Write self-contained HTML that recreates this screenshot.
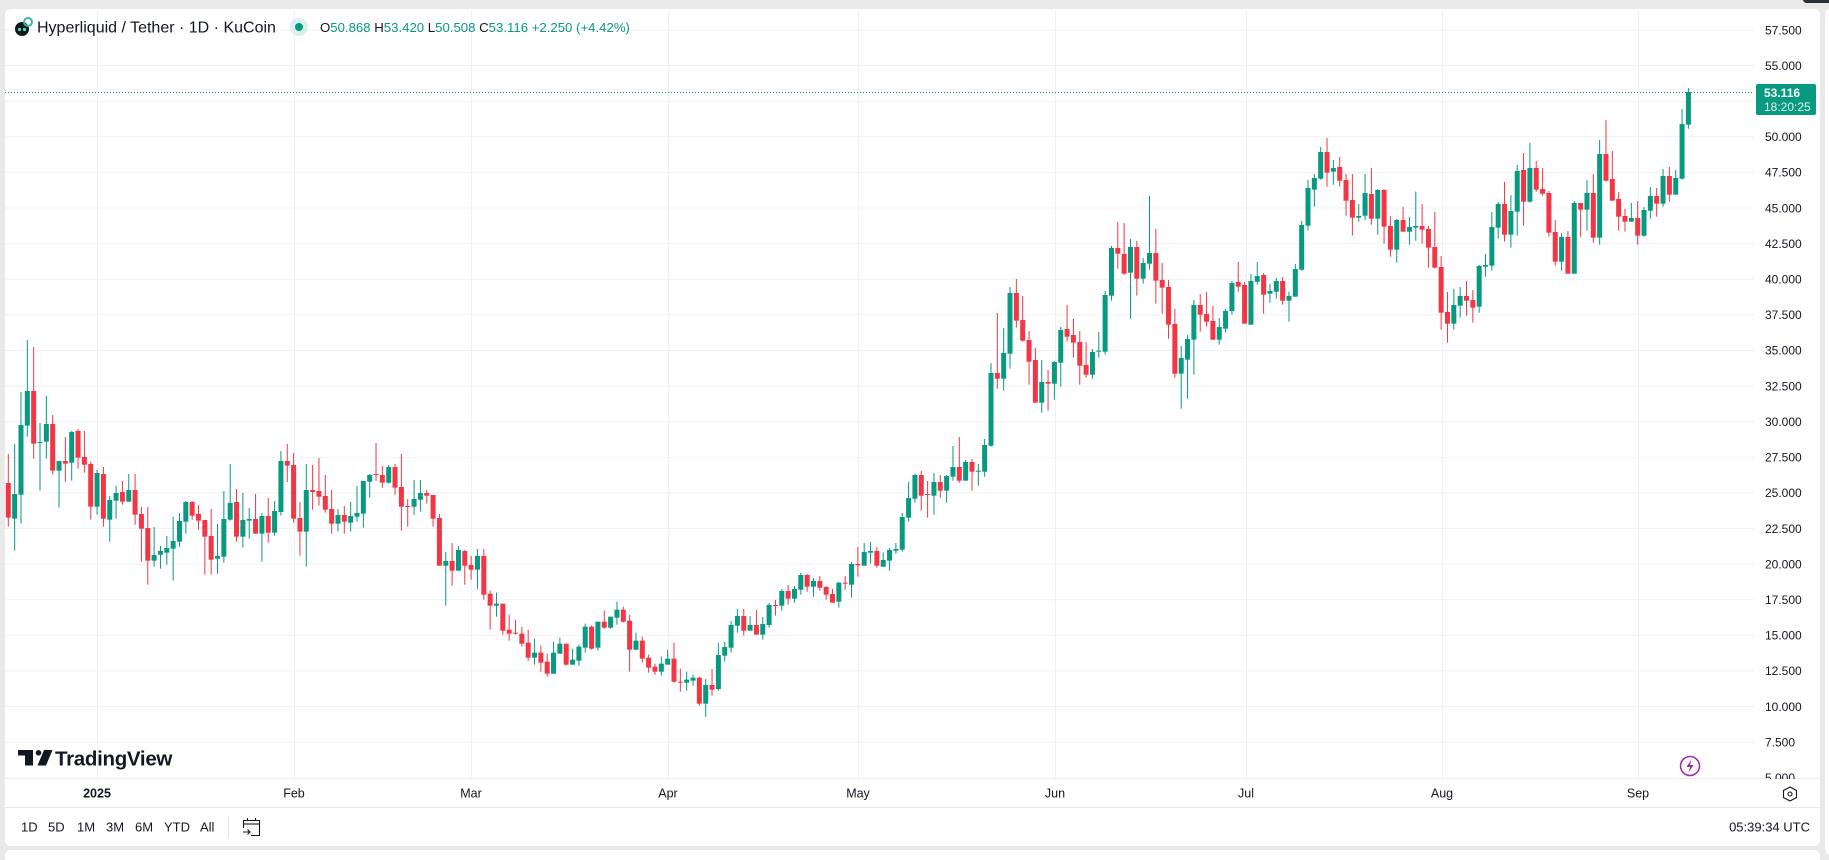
<!DOCTYPE html>
<html><head><meta charset="utf-8">
<style>
html,body{margin:0;padding:0;width:1829px;height:855px;overflow:hidden;background:#e9e9e9;font-family:"Liberation Sans",sans-serif;}
.abs{position:absolute;}
</style></head>
<body>
<div class="abs" style="left:5px;top:9px;width:1815px;height:837px;background:#fff;border-radius:6px;"></div>
<div class="abs" style="left:5px;top:850px;width:1815px;height:10px;background:#fff;border-radius:6px 6px 0 0;"></div>
<div class="abs" style="left:1825px;top:9px;width:10px;height:846px;background:#fff;border-radius:6px;"></div>
<div class="abs" style="left:1803px;top:-4px;width:30px;height:7px;background:#2a2e39;border-radius:4px;"></div>
<svg class="abs" style="left:0;top:0" width="1829" height="855" xmlns="http://www.w3.org/2000/svg">
<defs><clipPath id="pax"><rect x="1756" y="10" width="70" height="769"/></clipPath>
<clipPath id="plot"><rect x="5" y="10" width="1749" height="769"/></clipPath></defs>
<g stroke="#f0f1f3" stroke-width="1">
<line x1="5" x2="1754" y1="30" y2="30"/>
<line x1="5" x2="1754" y1="65.6" y2="65.6"/>
<line x1="5" x2="1754" y1="101.2" y2="101.2"/>
<line x1="5" x2="1754" y1="136.8" y2="136.8"/>
<line x1="5" x2="1754" y1="172.4" y2="172.4"/>
<line x1="5" x2="1754" y1="208" y2="208"/>
<line x1="5" x2="1754" y1="243.6" y2="243.6"/>
<line x1="5" x2="1754" y1="279.2" y2="279.2"/>
<line x1="5" x2="1754" y1="314.8" y2="314.8"/>
<line x1="5" x2="1754" y1="350.4" y2="350.4"/>
<line x1="5" x2="1754" y1="386.1" y2="386.1"/>
<line x1="5" x2="1754" y1="421.7" y2="421.7"/>
<line x1="5" x2="1754" y1="457.3" y2="457.3"/>
<line x1="5" x2="1754" y1="492.9" y2="492.9"/>
<line x1="5" x2="1754" y1="528.5" y2="528.5"/>
<line x1="5" x2="1754" y1="564.1" y2="564.1"/>
<line x1="5" x2="1754" y1="599.7" y2="599.7"/>
<line x1="5" x2="1754" y1="635.3" y2="635.3"/>
<line x1="5" x2="1754" y1="670.9" y2="670.9"/>
<line x1="5" x2="1754" y1="706.5" y2="706.5"/>
<line x1="5" x2="1754" y1="742.1" y2="742.1"/>
<line x1="97.5" x2="97.5" y1="10" y2="778"/>
<line x1="294.5" x2="294.5" y1="10" y2="778"/>
<line x1="471.5" x2="471.5" y1="10" y2="778"/>
<line x1="668.5" x2="668.5" y1="10" y2="778"/>
<line x1="858.5" x2="858.5" y1="10" y2="778"/>
<line x1="1055.5" x2="1055.5" y1="10" y2="778"/>
<line x1="1246.5" x2="1246.5" y1="10" y2="778"/>
<line x1="1442.5" x2="1442.5" y1="10" y2="778"/>
<line x1="1638.5" x2="1638.5" y1="10" y2="778"/>
</g>
<line x1="5" x2="1820" y1="778.5" y2="778.5" stroke="#eceef1"/>
<line x1="5" x2="1820" y1="807.5" y2="807.5" stroke="#e6e8ec"/>
<line x1="5" x2="1754" y1="92.5" y2="92.5" stroke="#089981" stroke-width="1" stroke-dasharray="1 2"/>
<g clip-path="url(#plot)" id="candles"></g>
<g font-size="12" fill="#131722" clip-path="url(#pax)">
<text x="1765" y="34.3">57.500</text>
<text x="1765" y="69.9">55.000</text>
<text x="1765" y="141.1">50.000</text>
<text x="1765" y="176.7">47.500</text>
<text x="1765" y="212.3">45.000</text>
<text x="1765" y="247.9">42.500</text>
<text x="1765" y="283.5">40.000</text>
<text x="1765" y="319.1">37.500</text>
<text x="1765" y="354.7">35.000</text>
<text x="1765" y="390.4">32.500</text>
<text x="1765" y="426">30.000</text>
<text x="1765" y="461.6">27.500</text>
<text x="1765" y="497.2">25.000</text>
<text x="1765" y="532.8">22.500</text>
<text x="1765" y="568.4">20.000</text>
<text x="1765" y="604">17.500</text>
<text x="1765" y="639.6">15.000</text>
<text x="1765" y="675.2">12.500</text>
<text x="1765" y="710.8">10.000</text>
<text x="1765" y="746.4">7.500</text>
<text x="1765" y="782">5.000</text>
</g>
<rect x="1756" y="84" width="60" height="31" rx="2" fill="#089981"/>
<text x="1764" y="97" font-size="12" font-weight="bold" fill="#fff">53.116</text>
<text x="1764" y="111" font-size="12" fill="#e6f5f2">18:20:25</text>
<circle cx="22" cy="29" r="7" fill="#0e1a1c"/>
<circle cx="19.5" cy="29.5" r="1.6" fill="#5fd3c0"/>
<circle cx="24.5" cy="29.5" r="1.6" fill="#5fd3c0"/>
<circle cx="28" cy="22" r="4" fill="none" stroke="#3bb5a3" stroke-width="2"/>
<text x="37" y="32.5" font-size="16" fill="#131722">Hyperliquid / Tether · 1D · KuCoin</text>
<circle cx="299" cy="27" r="9" fill="#d9f1ec"/>
<circle cx="299" cy="27" r="4" fill="#089981"/>
<text x="320" y="32" font-size="13.2" fill="#089981"><tspan fill="#131722">O</tspan>50.868 <tspan fill="#131722">H</tspan>53.420 <tspan fill="#131722">L</tspan>50.508 <tspan fill="#131722">C</tspan>53.116 +2.250 (+4.42%)</text>
<rect x="18" y="750" width="15" height="5.5" fill="#131722"/>
<rect x="25" y="750" width="8" height="15.5" fill="#131722"/>
<circle cx="38.5" cy="752.8" r="2.8" fill="#131722"/>
<polygon points="44,750 52.5,750 46,765.5 37.5,765.5" fill="#131722"/>
<text x="55" y="765.5" font-size="20.5" font-weight="bold" fill="#131722" letter-spacing="-0.3">TradingView</text>
<circle cx="1690" cy="766" r="9.5" fill="none" stroke="#9c27b0" stroke-width="1.5"/>
<polygon points="1691.5,759.5 1686.5,767 1690,767 1688.5,772.5 1693.5,765 1690,765" fill="#9c27b0"/>
<g font-size="12.5" fill="#131722" text-anchor="middle">
<text x="97" y="797.5" font-weight="bold">2025</text>
<text x="294" y="797.5">Feb</text>
<text x="471" y="797.5">Mar</text>
<text x="668" y="797.5">Apr</text>
<text x="858" y="797.5">May</text>
<text x="1055" y="797.5">Jun</text>
<text x="1246" y="797.5">Jul</text>
<text x="1442" y="797.5">Aug</text>
<text x="1638" y="797.5">Sep</text>
</g>
<polygon points="1790,787 1796.5,790.5 1796.5,797.5 1790,801 1783.5,797.5 1783.5,790.5" fill="none" stroke="#131722" stroke-width="1.1"/>
<circle cx="1790" cy="794" r="2" fill="none" stroke="#131722" stroke-width="1.1"/>
<g font-size="13" fill="#131722">
<text x="21" y="831.5">1D</text>
<text x="48" y="831.5">5D</text>
<text x="77" y="831.5">1M</text>
<text x="106" y="831.5">3M</text>
<text x="135" y="831.5">6M</text>
<text x="164" y="831.5">YTD</text>
<text x="200" y="831.5">All</text>
<text x="1810" y="831.5" text-anchor="end">05:39:34 UTC</text>
</g>
<line x1="228.5" x2="228.5" y1="816" y2="838" stroke="#e0e3eb"/>
<g fill="none" stroke="#131722" stroke-width="1.1">
<path d="M243.5,828 V820.5 H259.5 V835.5 H251"/>
<line x1="243.5" x2="259.5" y1="824" y2="824"/>
<line x1="247.5" x2="247.5" y1="818" y2="821"/>
<line x1="255.5" x2="255.5" y1="818" y2="821"/>
<path d="M243,832 H250 M247.5,829.5 L250,832 L247.5,834.5"/>
</g>
</svg>
<script>
const segs=[
[320,0,`r,489,593,402,620 g,522,596,372,692 g,315,524,216,611 g,213,317,60,350 r,213,371,81,416 g,366,368,309,512 g,312,365,228,416 r,312,452,285,464 g,423,452,423,563 r,423,431,351,485 g,336,428,333,482 r,333,413,327,446 r,411,434,333,458 r,432,560,426,599 g,459,560,450,584 r,462,596,441,620 g,540,599,528,665 g,519,542,498,596 r,516,545,483,554 g,510,545,462,545 r,510,584,462,614 r,582,626,561,725 r,624,722,561,794 g,705,722,621,740 g,693,704,678,746 g,684,698,648,734 g,663,686,591,782 g,603,665,579,680 g,546,605,543,641 r,546,587,543,599 r,582,602,555,629 r,600,650,600,764 r,648,719,567,764 g,708,716,612,761 g,597,710,513,728 g,549,599,432,602 r,546,650,507,665 g,600,650,519,683 g,597,602,564,656 r,597,641,522,641 g,588,641,579,725 r,588,638,534,668 g,573,638,543,647 g,423,576,393,587 r,423,437,372,486 r,435,596,399,608 r,594,635,546,707 g,510,635,432,740 r,510,516,435,569 r,513,530,414,557 r,528,569,465,578 r,567,611,510,641 g,585,611,567,635 r,585,605,558,641`],
[430,54,`g,258,278,216,305 g,249,260,168,275 g,153,251,153,293 g,135,155,132,203 r,132,135,39,153 r,135,158,108,173 g,111,158,105,161 r,111,173,102,194 r,171,230,72,302 r,228,231,207,290 g,207,230,150,255 g,189,209,150,245 r,189,197,180,221 r,195,266,195,290 r,264,407,252,407 g,393,407,366,527 r,393,422,339,467 g,360,422,348,422 r,363,407,360,464 r,405,419,378,449 g,378,419,357,476 r,378,494,357,509 r,491,527,482,599 g,521,527,488,560 r,521,602,521,614 r,599,611,554,632 r,608,611,569,614 r,611,641,590,650 r,638,683,599,692 g,668,683,626,704 r,668,698,647,725 r,695,731,671,740 g,668,731,635,731 g,641,671,623,671 r,641,704,641,707 g,689,704,656,704 g,650,692,644,707 g,590,653,581,668 r,590,656,587,659 g,575,653,575,662 r,575,593,542,596 g,560,593,560,596 g,539,563,515,584 r,539,575,530,578 r,572,659,554,725 g,632,659,608,659 r,632,686,620,698 r,683,713,674,728 r,710,725,701,734 g,701,725,680,737 g,686,704,659,704 r,686,755,638,758 r,755,758,716,785 g,749,758,725,782 g,743,752,734,767 r,743,821,740,827`],
[520,110,`g,495,551,477,590 r,495,509,447,527 g,405,507,369,512 g,381,407,366,425 g,315,383,303,398 g,288,317,267,338 r,288,332,267,347 g,315,332,288,332 r,315,344,270,344 g,312,344,291,359 g,255,315,249,323 r,255,257,240,287 g,213,257,207,272 r,213,236,195,254 g,207,236,198,248 g,165,209,159,224 r,165,200,162,215 g,183,200,174,230 r,183,203,168,212 r,201,224,198,239 r,222,248,207,248 g,188,245,186,263 r,188,190,168,209 g,132,194,126,233 r,132,136,81,170 g,96,137,69,137 g,93,98,66,131 r,93,137,81,143 g,120,140,98,140`],
[260,139,`g,870,902,864,932 g,867,872,849,881 g,771,869,759,875 g,714,773,666,785 g,645,716,642,728 r,645,707,633,752 r,702,705,663,773 g,666,707,639,764 r,666,692,645,713 g,648,692,645,728 g,621,650,558,662 r,621,662,531,668 g,606,662,600,662 r,606,635,597,692 g,632,635,612,677 g,555,635,537,650 g,339,557,309,560 r,339,356,159,386 g,279,356,204,392 g,99,281,81,326 r,99,182,57,203 r,180,242,108,245 r,240,305,213,374 r,300,428,264,428 g,366,428,300,458 r,366,371,330,452 g,306,371,303,419 g,210,308,201,380`],
[130,167,`r,597,620,525,635 r,615,638,567,683 r,636,707,603,764 r,705,734,636,743 g,666,734,657,746 g,662,665,606,683 g,495,665,483,674 g,354,497,348,512 r,354,371,276,416 r,372,431,279,434 g,351,428,327,566 r,351,446,333,497 g,399,446,384,461 g,369,401,198,419 r,369,452,297,521 r,450,473,399,551 r,471,584,450,626 r,582,731,537,743 g,684,731,648,836 g,627,689,615,806 g,525,629,510,734 r,525,554,492,605 r,552,575,486,590 r,573,629,528,629 g,591,629,564,644 g,543,596,537,608 g,459,543,453,554 r,456,470,396,485 r,465,581,456,581 g,453,584,432,584 g,438,455,396,464 r,435,494,429,551 g,483,491,462,518 g,453,485,444,506 r,453,512,441,524 g,498,512,485,575 g,417,500,402,500 g,285,419,273,422 g,174,287,150,302 g,144,179,132,230 g,66,146,51,149 r,66,128,24,170 g,114,125,90,164 r,111,152,81,170 r,150,212,132,257 r,210,263,132,317 g,258,263,222,275 g,189,257,132,270 r,192,266,114,284 g,180,266,177,314 r,180,290,177,341 r,288,359,258,380 g,270,359,267,398 r,270,305,231,305 g,291,305,261,344 g,288,293,185,332`],
[70,223,`r,468,479,402,521 r,477,533,468,593 r,531,593,426,596 r,591,728,558,779 r,726,761,666,818 g,705,761,657,779 g,678,707,651,743 r,678,692,633,737 r,690,713,660,758 g,588,710,585,728 g,585,590,552,620 g,471,587,426,602 g,402,473,396,506 r,402,494,336,515 g,423,494,375,533 g,303,425,285,497 r,300,395,249,467 g,294,395,219,398 r,294,359,273,365 r,357,371,294,377 r,369,488,363,500 r,486,575,450,587 g,501,575,489,602 r,501,611,483,611 g,399,611,393,611 r,399,419,399,500 g,369,419,330,482 r,369,503,312,518 g,252,503,210,524 r,252,332,150,335 r,327,392,243,392 r,387,440,366,482 r,438,455,417,485 g,444,455,399,455 r,444,497,393,524 g,420,497,411,500 g,378,422,351,446 r,378,401,354,440 g,318,401,297,410 r,318,374,291,395 g,324,374,300,374 g,162,326,117,329 g,66,164,54,176`]
];
let h='';
for(const [oy,s,str] of segs){
  const arr=str.trim().split(/\s+/);
  arr.forEach((e,k)=>{
    const p=e.split(',');
    const c=p[0],bt=+p[1],bb=+p[2],wt=+p[3],wb=+p[4];
    const i=s+k, cx=8.3+i*6.34;
    const col=c==='g'?'#089981':'#f23645';
    const BT=oy+bt/3, BB=oy+bb/3, WT=oy+wt/3, WB=oy+wb/3;
    h+='<rect x="'+(cx-0.5).toFixed(2)+'" y="'+WT.toFixed(2)+'" width="1" height="'+(WB-WT).toFixed(2)+'" fill="'+col+'"/>';
    h+='<rect x="'+(cx-2.5).toFixed(2)+'" y="'+BT.toFixed(2)+'" width="5" height="'+Math.max(BB-BT,1).toFixed(2)+'" fill="'+col+'"/>';
  });
}
document.getElementById('candles').innerHTML=h;
</script>
</body></html>
